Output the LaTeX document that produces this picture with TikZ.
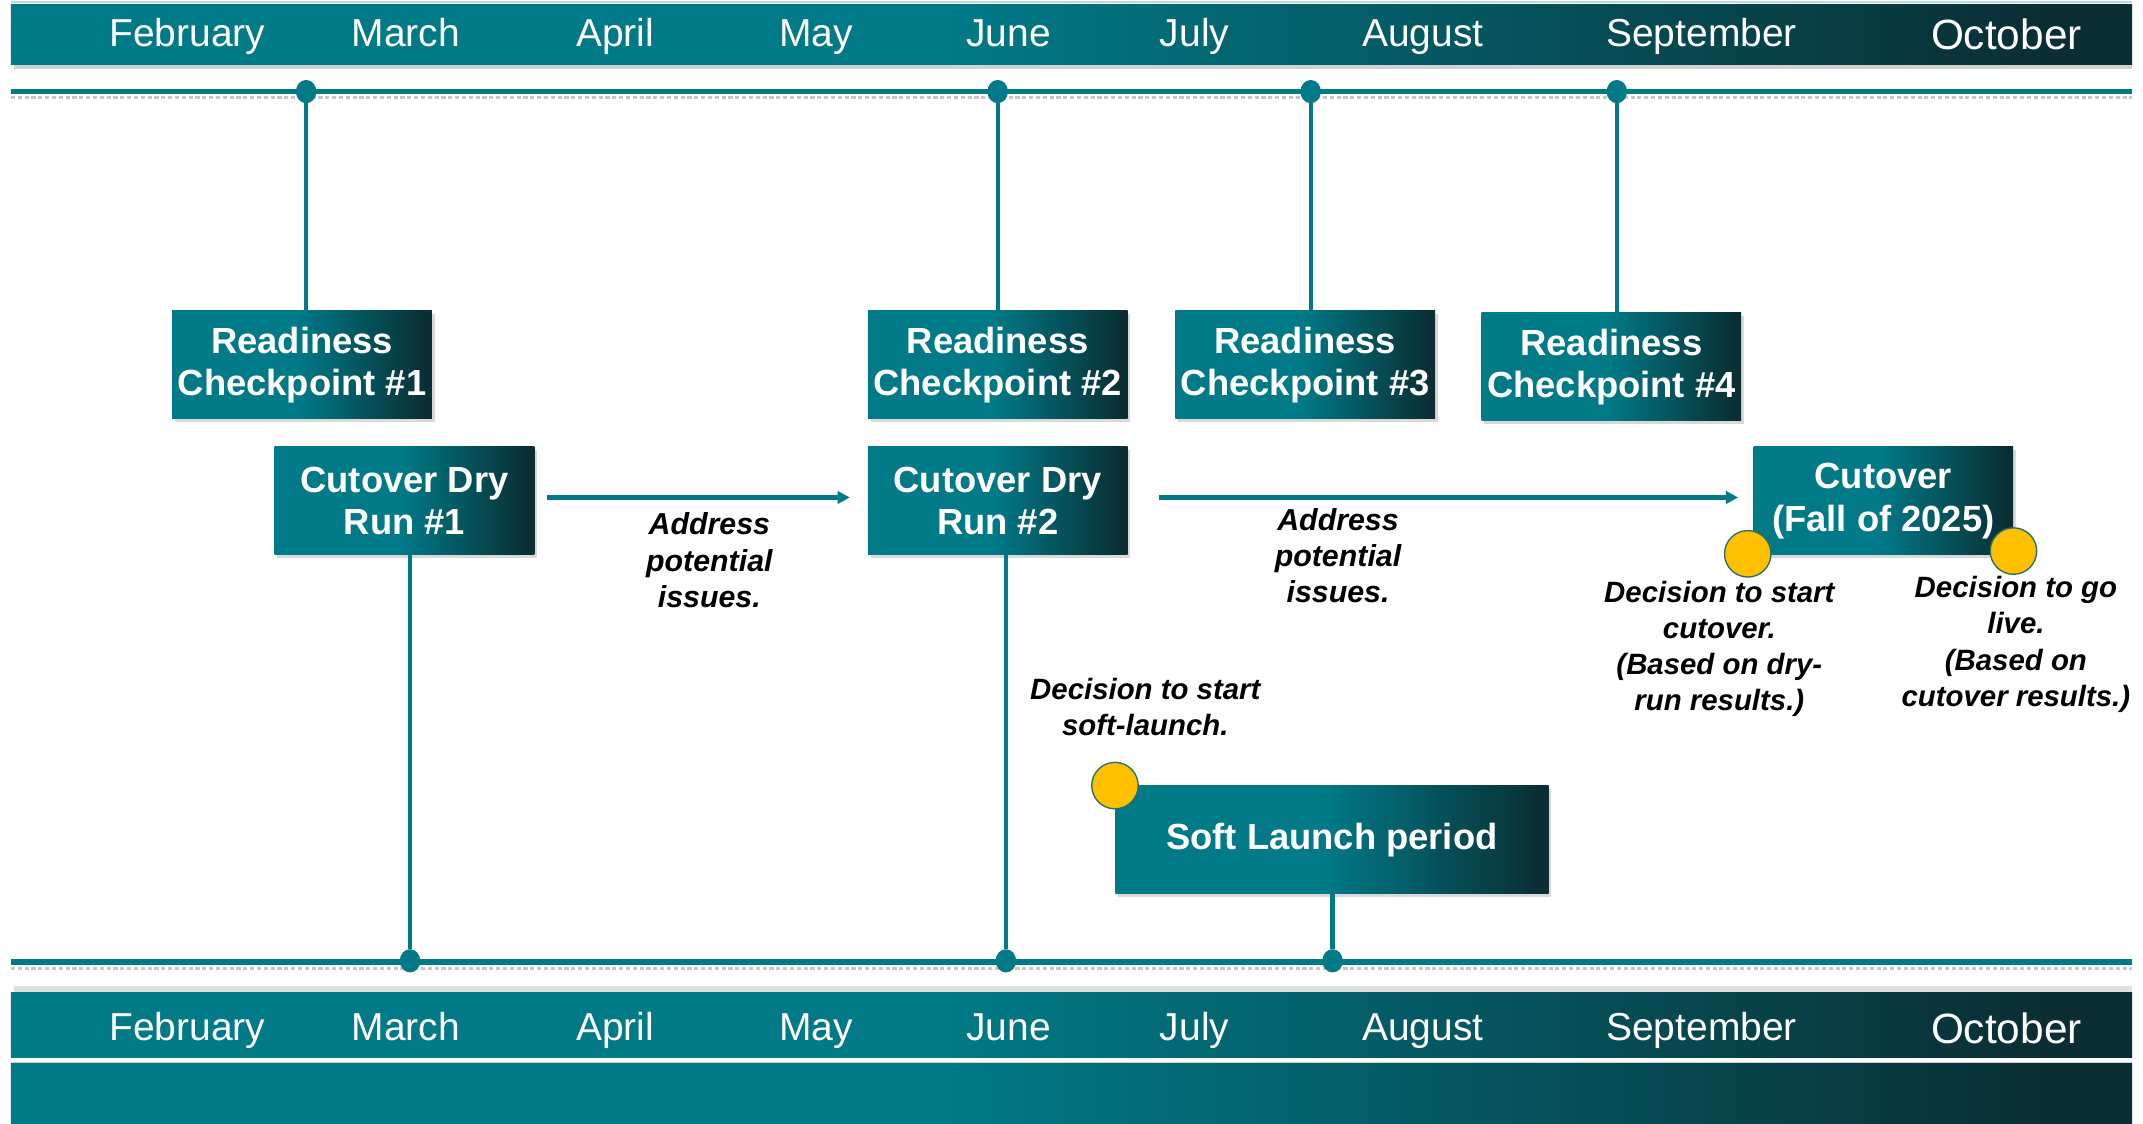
\documentclass[tikz,border=0pt]{standalone}
\usepackage{fontspec}
\setmainfont{Liberation Sans}
\usetikzlibrary{arrows.meta,shadows,shapes.geometric}
\definecolor{tealc}{HTML}{007A87}
\definecolor{darkc}{HTML}{0A2E34}
\definecolor{goldc}{HTML}{FFC000}
\definecolor{rimc}{HTML}{2D6E63}
\definecolor{palec}{HTML}{B9DCE0}
\pgfdeclarehorizontalshading{boxshade}{100bp}{color(0bp)=(tealc); color(49bp)=(tealc); color(74bp)=(darkc); color(100bp)=(darkc)}
\pgfdeclarehorizontalshading{bandshade}{100bp}{color(0bp)=(tealc); color(47bp)=(tealc); color(73bp)=(darkc); color(100bp)=(darkc)}
\tikzset{
  box/.style={shade, shading=boxshade, minimum width=190pt, minimum height=79pt, inner sep=0pt,
    align=center, text=white, font=\fontsize{26.6}{31}\selectfont\bfseries,
    drop shadow={opacity=0.3, shadow xshift=2pt, shadow yshift=-2pt}},
  month/.style={text=white, font=\fontsize{28.5}{34}\selectfont, inner sep=0pt, anchor=base},
  note/.style={align=center, inner sep=0pt, font=\fontsize{21.5}{26.4}\selectfont\bfseries\itshape},
  tl/.style={draw=tealc, line width=4pt},
  tlshadow/.style={draw=black!22, line width=2.5pt, dash pattern=on 3pt off 2pt},
  vl/.style={draw=tealc, line width=3.2pt},
  tdot/.style={ellipse, fill=tealc, minimum width=15pt, minimum height=17pt, inner sep=0pt},
  ydot/.style={circle, fill=goldc, draw=rimc, line width=1pt, minimum size=34pt, inner sep=0pt},
  arr/.style={draw=tealc, line width=3pt, -{Triangle[length=9pt,width=9pt]}},
  band/.style={shade, shading=bandshade}
}
\begin{document}
\begin{tikzpicture}[x=1pt,y=-1pt]
\useasboundingbox (0,0) rectangle (1568,822);
% top band
\draw[palec, line width=1.5pt] (8,1.2) -- (1560,1.2);
\fill[black, opacity=0.18] (10,47) rectangle (1560,50.5);
\path[band] (8,3.5) rectangle (1560,47);
% bottom bands
\fill[black, opacity=0.12] (10,721.5) rectangle (1560,726);
\path[band] (8,726) rectangle (1560,774);
\fill[black, opacity=0.2] (8,777) rectangle (1560,779);
\path[band] (8,778) rectangle (1560,822);
% months
\foreach \n/\x/\m in {1/137/February,2/297/March,3/450/April,4/597/May,5/738/June,6/874/July,7/1041/August,8/1245/September}{
  \node[month] (mt\n) at (\x,34) {\m};
  \node[month] (mb\n) at (\x,761) {\m};
}
\node[month, font=\fontsize{31}{36}\selectfont] (mt9) at (1468,36.5) {October};
\node[month, font=\fontsize{31}{36}\selectfont] (mb9) at (1468,763.5) {October};
% timelines
\coordinate (tL) at (8,67); \coordinate (tR) at (1560,67);
\coordinate (bL) at (8,704); \coordinate (bR) at (1560,704);
\draw[tlshadow] ([yshift=-4.5pt]tL) -- ([yshift=-4.5pt]tR);
\draw[tlshadow] ([yshift=-4.5pt]bL) -- ([yshift=-4.5pt]bR);
\draw[tl] (tL) -- (tR);
\draw[tl] (bL) -- (bR);
% boxes
\node[box] (rc1) at (221,267) {Readiness\\Checkpoint \#1};
\node[box] (rc2) at (730,267) {Readiness\\Checkpoint \#2};
\node[box] (rc3) at (955,267) {Readiness\\Checkpoint \#3};
\node[box] (rc4) at (1179,268.5) {Readiness\\Checkpoint \#4};
\node[box] (dry1) at (296,366.5) {Cutover Dry\\Run \#1};
\node[box] (dry2) at (730,366.5) {Cutover Dry\\Run \#2};
\node[box] (cut) at (1378,366.5) {Cutover\\(Fall of 2025)};
\node[box, minimum width=317pt] (soft) at (974.5,614.5) {Soft Launch period};
% dots on timelines
\node[tdot] (td1) at (224,67) {};
\node[tdot] (td2) at (730,67) {};
\node[tdot] (td3) at (959,67) {};
\node[tdot] (td4) at (1183,67) {};
\node[tdot] (bd1) at (300,703) {};
\node[tdot] (bd2) at (736,703) {};
\node[tdot] (bd3) at (975,703) {};
% vertical connectors
\draw[vl] (td1) -- (td1 |- rc1.north);
\draw[vl] (td2) -- (td2 |- rc2.north);
\draw[vl] (td3) -- (td3 |- rc3.north);
\draw[vl] (td4) -- (td4 |- rc4.north);
\draw[vl] (bd1 |- dry1.south) -- (bd1);
\draw[vl] (bd2 |- dry2.south) -- (bd2);
\draw[vl] (bd3 |- soft.south) -- (bd3);
% arrows
\draw[arr] ([xshift=9pt,yshift=2.5pt]dry1.east) -- ([xshift=-13pt,yshift=2.5pt]dry2.west);
\draw[arr] ([xshift=23pt,yshift=2.5pt]dry2.east) -- ([xshift=-11pt,yshift=2.5pt]cut.west);
% decision circles
\node[ydot] (ys) at (soft.north west) {};
\node[ydot] (yc1) at ([xshift=-4pt,yshift=1pt]cut.south west) {};
\node[ydot] (yc2) at ([yshift=3pt]cut.south east) {};
% notes
\node[note, font=\fontsize{22.2}{26.5}\selectfont\bfseries\itshape] (ad1) at (519,410) {Address\\potential\\issues.};
\node[note, font=\fontsize{22.2}{26.5}\selectfont\bfseries\itshape] (ad2) at (979,406.5) {Address\\potential\\issues.};
\node[note] (ds) at (838,517) {Decision to start\\soft-launch.};
\node[note] (dc) at (1258,475) {Decision to start\\cutover.\\(Based on dry-\\run results.)};
\node[note] (dg) at (1475,471.5) {Decision to go\\live.\\(Based on\\cutover results.)};
\end{tikzpicture}
\end{document}
